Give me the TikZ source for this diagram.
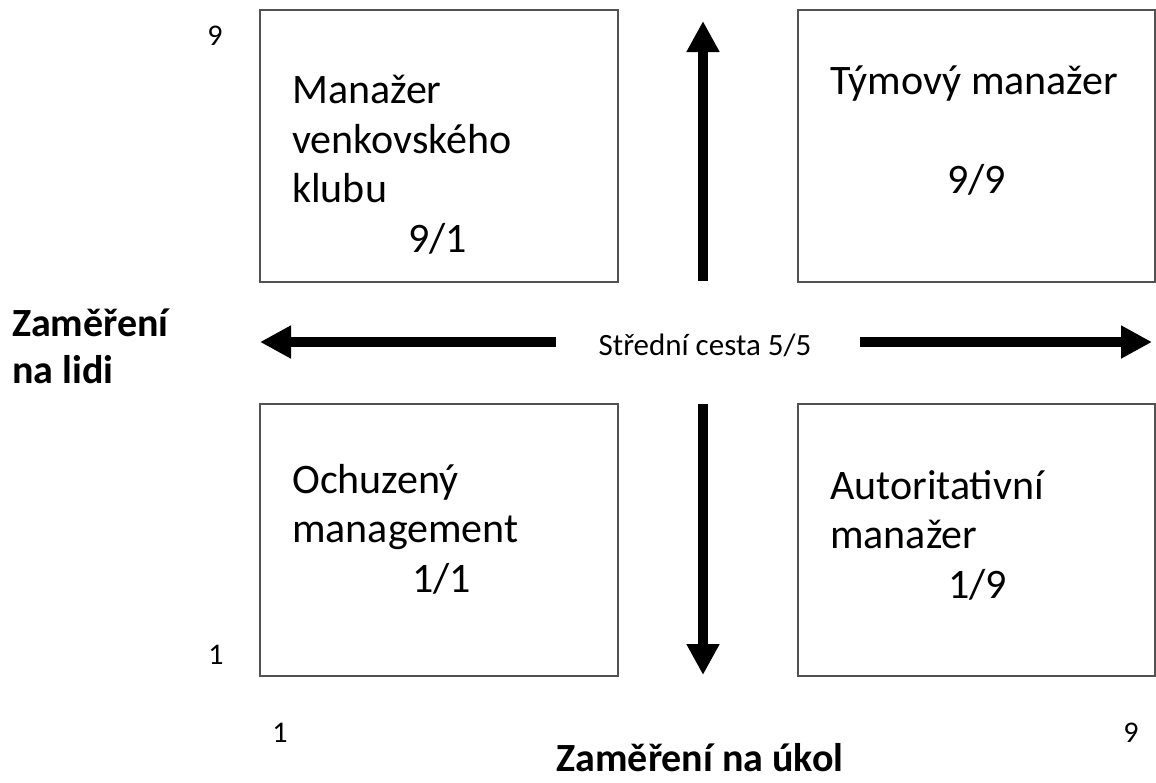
\documentclass[tikz,border=0pt]{standalone}
\usepackage{fontspec}
\setmainfont{Carlito}
\usetikzlibrary{arrows.meta}

\tikzset{
  quad/.style={draw=black!68, line width=1.4pt, fill=none, inner sep=0pt},
  % multi-line texts are anchored at the baseline of their last line
  quadtext/.style={anchor=base west, inner sep=0pt, align=left,
    font=\fontsize{42}{49.5}\selectfont},
  axislabel/.style={inner sep=0pt, align=left,
    font=\fontsize{40}{47}\selectfont\bfseries},
  tick/.style={inner sep=0pt, font=\fontsize{30}{32}\selectfont},
  bigarrow/.style={line width=10pt,
    -{Triangle[length=31pt,width=31pt]}},
}

\begin{document}
\begin{tikzpicture}[x=1pt,y=-1pt]
  \useasboundingbox (0,0) rectangle (1156,782);

  % the four style quadrants
  \node[quad, minimum width=358pt, minimum height=272pt] (tl) at (439,146) {};
  \node[quad, minimum width=357pt, minimum height=272pt] (tr) at (976.5,146) {};
  \node[quad, minimum width=358pt, minimum height=272pt] (bl) at (439,540) {};
  \node[quad, minimum width=357pt, minimum height=272pt] (br) at (976.5,540) {};

  % quadrant texts
  \node[quadtext] (tlt) at (292,252) {Manažer\\venkovského\\klubu\\\hspace*{116pt}9/1};
  \node[quadtext] (trt) at (830,193) {Týmový manažer\\[49.5pt]\hspace*{117pt}9/9};
  \node[quadtext] (blt) at (292,592) {Ochuzený\\management\\\hspace*{120pt}1/1};
  \node[quadtext] (brt) at (830,598) {Autoritativní\\manažer\\\hspace*{118pt}1/9};

  % centre label
  \node[inner sep=0pt, font=\fontsize{31}{34}\selectfont] (mid) at (705,345) {Střední cesta 5/5};

  % arrows from the centre outwards
  \coordinate (upS) at (703,281);  \coordinate (upE) at (703,21);
  \coordinate (dnS) at (703,404);  \coordinate (dnE) at (703,675);
  \coordinate (lfS) at (556,342);  \coordinate (lfE) at (260,342);
  \coordinate (rtS) at (860,342);  \coordinate (rtE) at (1152,342);
  \draw[bigarrow] (upS) -- (upE);
  \draw[bigarrow] (dnS) -- (dnE);
  \draw[bigarrow] (lfS) -- (lfE);
  \draw[bigarrow] (rtS) -- (rtE);

  % scale marks
  \node[tick] (y9) at (215,36) {9};
  \node[tick] (y1) at (216,655) {1};
  \node[tick] (x1) at (280,733) {1};
  \node[tick] (x9) at (1131,733) {9};

  % axis titles
  \node[axislabel, anchor=base west] (ylab) at (12,383) {Zaměření\\na lidi};
  \node[axislabel, anchor=base, text depth=0pt] (xlab) at (700,771) {Zaměření na úkol};
\end{tikzpicture}
\end{document}
